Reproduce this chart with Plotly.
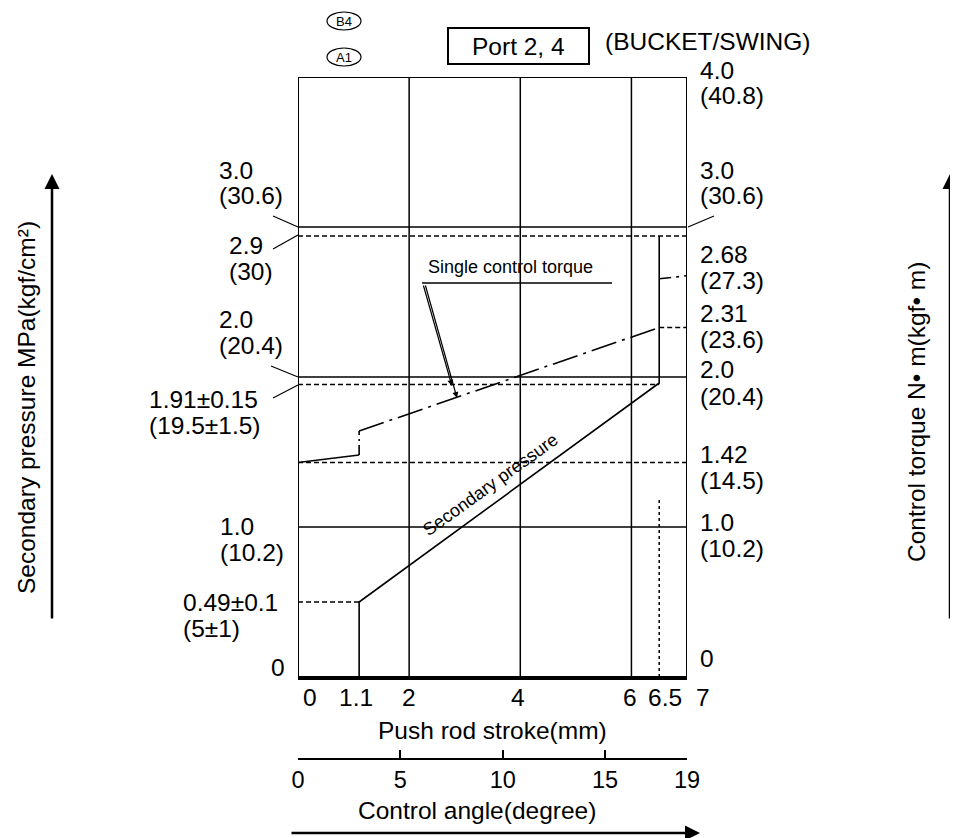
import plotly.graph_objects as go

# ---------------- data ----------------
stroke_ticks = [0, 1.1, 2, 4, 6, 6.5, 7]
stroke_tick_text = ["0", "1.1", "2", "4", "6", "6.5", "7"]
angle_ticks = [0, 5, 10, 15, 19]
grid_stroke = [2, 4, 6]
solid_levels = [1.0, 2.0, 3.0]

pressure_x = [1.1, 1.1, 6.5, 6.5]
pressure_y = [0, 0.5, 1.96, 2.94]

torque_start_x = [0, 1.1]
torque_start_y = [1.43, 1.48]
torque_step_x = [1.1, 1.1]
torque_step_y = [1.48, 1.64]
torque_rise_x = [1.1, 6.5]
torque_rise_y = [1.64, 2.33]
torque_end_x = [6.5, 7]
torque_end_y = [2.655, 2.675]

dash_level_y = [2.94, 1.43, 1.95, 0.5, 2.33]
dash_level_x0 = [0, 0, 0, 0, 6.5]
dash_level_x1 = [7, 7, 6.5, 1.1, 7]

stop_x = 6.5
stop_y = [0, 1.2]

left_main = ["3.0", "2.9", "2.0", "1.91±0.15", "1.0", "0.49±0.1", "0"]
left_sub = ["(30.6)", "(30)", "(20.4)", "(19.5±1.5)", "(10.2)", "(5±1)", ""]
right_main = ["4.0", "3.0", "2.68", "2.31", "2.0", "1.42", "1.0", "0"]
right_sub = ["(40.8)", "(30.6)", "(27.3)", "(23.6)", "(20.4)", "(14.5)", "(10.2)", ""]

# ---------------- geometry (page pixels) ----------------
PAGE_OFF = 8            # default body margin of the html page
W, H = 958 - PAGE_OFF, 838 - PAGE_OFF
PL, PR, PT, PB = 298, 687, 77, 759      # paper box in page pixels
PLOT_BOTTOM = 677
FONT = "Liberation Sans, Arial, Helvetica, sans-serif"
FS = 24.5


def xp(px):
    return (px - PL) / (PR - PL)


def yp(py):
    return (PB - py) / (PB - PT)


fig = go.Figure()

shapes = []
shapes.append(dict(type="rect", xref="x", yref="y", x0=0, x1=7, y0=0, y1=4,
                   line=dict(color="black", width=2)))
for gx in grid_stroke:
    shapes.append(dict(type="line", xref="x", yref="y", x0=gx, x1=gx, y0=0, y1=4,
                       line=dict(color="black", width=1.5)))
for ly in solid_levels:
    shapes.append(dict(type="line", xref="x", yref="y", x0=0, x1=7, y0=ly, y1=ly,
                       line=dict(color="black", width=1.5)))
for y_, a, b in zip(dash_level_y, dash_level_x0, dash_level_x1):
    shapes.append(dict(type="line", xref="x", yref="y", x0=a, x1=b, y0=y_, y1=y_,
                       line=dict(color="black", width=1.5, dash="5px,3px")))
shapes.append(dict(type="line", xref="x", yref="y", x0=stop_x, x1=stop_x,
                   y0=stop_y[0], y1=stop_y[1],
                   line=dict(color="black", width=1.5, dash="3px,3px")))

leaders = [((273, 216), (298, 227)), ((273, 249), (298, 235)),
           ((271, 366), (298, 377)), ((273, 398), (298, 385)),
           ((688, 227), (714, 216))]
for (a, b) in leaders:
    shapes.append(dict(type="line", xref="paper", yref="paper",
                       x0=xp(a[0]), y0=yp(a[1]), x1=xp(b[0]), y1=yp(b[1]),
                       line=dict(color="black", width=1.2)))
shapes.append(dict(type="line", xref="paper", yref="paper",
                   x0=xp(422), x1=xp(612), y0=yp(283), y1=yp(283),
                   line=dict(color="black", width=1.3)))
shapes.append(dict(type="rect", xref="paper", yref="paper",
                   x0=xp(448), x1=xp(589), y0=yp(64), y1=yp(28),
                   line=dict(color="black", width=2)))
for cy in (21, 57):
    shapes.append(dict(type="circle", xref="paper", yref="paper",
                       x0=xp(327), x1=xp(361), y0=yp(cy + 9), y1=yp(cy - 9),
                       line=dict(color="black", width=1.2)))

line_style = dict(color="black", width=1.6)
fig.add_trace(go.Scatter(x=pressure_x, y=pressure_y, mode="lines", line=line_style,
                         showlegend=False, hoverinfo="skip"))
fig.add_trace(go.Scatter(x=torque_start_x, y=torque_start_y, mode="lines", line=line_style,
                         showlegend=False, hoverinfo="skip"))
fig.add_trace(go.Scatter(x=torque_step_x, y=torque_step_y, mode="lines",
                         line=dict(color="black", width=1.6, dash="10px,4px,2px,4px"),
                         showlegend=False, hoverinfo="skip"))
fig.add_trace(go.Scatter(x=torque_rise_x, y=torque_rise_y, mode="lines",
                         line=dict(color="black", width=1.6, dash="26px,6px,3px,6px"),
                         showlegend=False, hoverinfo="skip"))
fig.add_trace(go.Scatter(x=torque_end_x, y=torque_end_y, mode="lines",
                         line=dict(color="black", width=1.6, dash="12px,5px,3px,5px"),
                         showlegend=False, hoverinfo="skip"))
fig.add_trace(go.Scatter(x=[0, 19], y=[None, None], xaxis="x2", yaxis="y", mode="lines",
                         showlegend=False, hoverinfo="skip"))

ann = []


def text(t, x, y, size=FS, xanchor="left", angle=0, **kw):
    ann.append(dict(text=t, x=xp(x), y=yp(y), xref="paper", yref="paper",
                    xanchor=xanchor, yanchor="middle", showarrow=False,
                    textangle=angle, font=dict(family=FONT, size=size, color="black"), **kw))


left_x = [217, 227, 217, 147, 218, 181, 269]
left_y = [170, 245, 319, 399, 526, 602, 667]
for t, s, x, y in zip(left_main, left_sub, left_x, left_y):
    text(t, x, y)
    if s:
        text(s, x, y + 26)
right_y = [70, 170, 254, 313, 370, 455, 522, 658]
for t, s, y in zip(right_main, right_sub, right_y):
    text(t, 698, y)
    if s:
        text(s, 698, y + 26)

tick_shift = [12, -3, 0, -2, -1, 6, 16]
for v, t, sh in zip(stroke_ticks, stroke_tick_text, tick_shift):
    ann.append(dict(text=t, x=v, xref="x", y=yp(697), yref="paper", xshift=sh,
                    xanchor="center", yanchor="middle", showarrow=False,
                    font=dict(family=FONT, size=FS, color="black")))

text("Push rod stroke(mm)", 492, 730, xanchor="center")
text("Control angle(degree)", 477, 810, xanchor="center")
text("Secondary pressure MPa(kgf/cm²)", 26, 408, xanchor="center", angle=-90)
text("Control torque N• m(kgf• m)", 916, 412, xanchor="center", angle=-90)
text("Port 2, 4", 518, 46, xanchor="center")
text("(BUCKET/SWING)", 603, 41)
text("B4", 344, 21, size=13, xanchor="center")
text("A1", 344, 57, size=13, xanchor="center")
text("Single control torque", 426, 267, size=18)
text("Secondary pressure", 490, 485, size=18, xanchor="center", angle=-35.8)


def arrow(tip, tail, width=2.5, head=2, size=1.2):
    ann.append(dict(text="", x=xp(tip[0]), y=yp(tip[1]), xref="paper", yref="paper",
                    ax=tail[0] - tip[0], ay=tail[1] - tip[1], showarrow=True,
                    arrowhead=head, arrowsize=size, arrowwidth=width, arrowcolor="black"))


arrow((52, 174), (52, 620))
arrow((950, 174), (950, 620))
arrow((700, 833), (290, 833))
arrow((452, 386), (423, 284), width=1.2, head=2, size=1.0)
arrow((457, 398), (425, 284), width=1.2, head=2, size=1.0)

fig.update_layout(
    width=W, height=H,
    margin=dict(l=PL - PAGE_OFF, r=(958 - PR), t=PT - PAGE_OFF, b=(838 - PB), pad=0),
    paper_bgcolor="white", plot_bgcolor="white",
    showlegend=False,
    xaxis=dict(range=[0, 7], showgrid=False, zeroline=False, showticklabels=False,
               showline=True, linecolor="black", linewidth=3, ticks="", anchor="y"),
    xaxis2=dict(range=[0, 19], overlaying="x", anchor="free", position=0, side="bottom",
                showgrid=False, zeroline=False, showline=True, linecolor="black",
                linewidth=1.5, ticks="inside", ticklen=8, tickwidth=1.5, tickcolor="black",
                tickvals=angle_ticks, ticktext=[str(v) for v in angle_ticks],
                tickfont=dict(family=FONT, size=FS - 1, color="black")),
    yaxis=dict(range=[0, 4], domain=[(PB - PLOT_BOTTOM) / (PB - PT), 1], showgrid=False,
               zeroline=False, showticklabels=False, showline=False, ticks=""),
    shapes=shapes,
    annotations=ann,
)

fig.write_html("out.html")
